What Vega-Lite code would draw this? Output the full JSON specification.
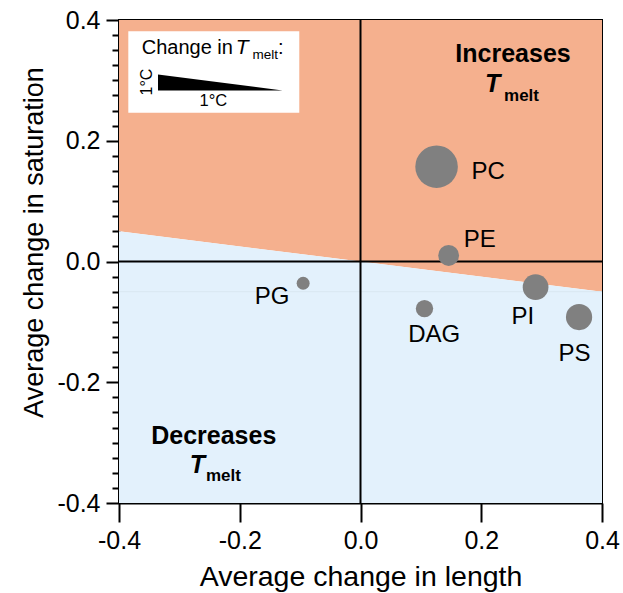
{
  "$schema": "https://vega.github.io/schema/vega-lite/v6.json",
  "width": 483,
  "height": 483,
  "autosize": {"type": "none"},
  "padding": {"left": 119, "top": 20, "right": 21, "bottom": 90},
  "background": "white",
  "config": {
    "font": "Liberation Sans",
    "view": {"stroke": "black", "strokeWidth": 2},
    "axis": {"grid": false, "domainColor": "black", "domainWidth": 2, "tickColor": "black", "tickWidth": 2, "labelColor": "black", "titleColor": "black", "labelFontSize": 25, "titleFontSize": 27, "titleFontWeight": "normal", "labelOverlap": false, "labelFlush": false}
  },
  "datasets": {
    "upper": [{"x": -0.4, "y": 0.05}, {"x": 0.4, "y": -0.05}],
    "points": [
      {"lipid": "PC", "length": 0.126, "saturation": 0.157, "w": 1.0, "lx": 0.184, "ly": 0.137},
      {"lipid": "PE", "length": 0.146, "saturation": 0.01, "w": 0.24, "lx": 0.171, "ly": 0.024},
      {"lipid": "PI", "length": 0.29, "saturation": -0.0425, "w": 0.365, "lx": 0.25, "ly": -0.104},
      {"lipid": "PS", "length": 0.362, "saturation": -0.092, "w": 0.38, "lx": 0.328, "ly": -0.165},
      {"lipid": "DAG", "length": 0.106, "saturation": -0.078, "w": 0.167, "lx": 0.079, "ly": -0.134},
      {"lipid": "PG", "length": -0.095, "saturation": -0.036, "w": 0.093, "lx": -0.175, "ly": -0.07}
    ],
    "bigT": [
      {"t": "T", "x": 0.2314, "y": 0.2804},
      {"t": "T", "x": -0.2576, "y": -0.350}
    ],
    "bigMelt": [
      {"t": "melt", "x": 0.2377, "y": 0.2655},
      {"t": "melt", "x": -0.256, "y": -0.364}
    ],
    "headers": [
      {"t": "Increases", "x": 0.2526, "y": 0.33},
      {"t": "Decreases", "x": -0.243, "y": -0.303}
    ],
    "minor": [
      {"v": -0.375}, {"v": -0.35}, {"v": -0.325}, {"v": -0.3}, {"v": -0.275}, {"v": -0.25}, {"v": -0.225},
      {"v": -0.175}, {"v": -0.15}, {"v": -0.125}, {"v": -0.1}, {"v": -0.075}, {"v": -0.05}, {"v": -0.025},
      {"v": 0.025}, {"v": 0.05}, {"v": 0.075}, {"v": 0.1}, {"v": 0.125}, {"v": 0.15}, {"v": 0.175},
      {"v": 0.225}, {"v": 0.25}, {"v": 0.275}, {"v": 0.3}, {"v": 0.325}, {"v": 0.35}, {"v": 0.375}
    ]
  },
  "resolve": {"axis": {"y": "independent"}},
  "layer": [
    {
      "layer": [
        {
          "data": {"name": "upper"},
          "mark": {"type": "area", "orient": "vertical", "color": "#F5B08E", "clip": true},
          "encoding": {
            "x": {"field": "x", "type": "quantitative", "scale": {"domain": [-0.4, 0.4], "nice": false, "zero": false},
              "axis": {"values": [-0.4, -0.2, 0, 0.2, 0.4], "tickSize": 19, "labelPadding": 6, "labelExpr": "replace(format(datum.value, '.1f'), '−', '-')", "title": "Average change in length", "titleFontSize": 28.5, "titlePadding": 9}},
            "y": {"field": "y", "type": "quantitative", "scale": {"domain": [-0.4, 0.4], "nice": false, "zero": false},
              "axis": {"values": [-0.4, -0.2, 0, 0.2, 0.4], "tickSize": 13,
                "labelExpr": "replace(format(datum.value, '.1f'), '−', '-')",
                "labelPadding": 6, "title": "Average change in saturation", "titlePadding": 8, "titleY": 222}},
            "y2": {"datum": 0.4}
          }
        },
        {
          "data": {"name": "upper"},
          "mark": {"type": "area", "orient": "vertical", "color": "#E3F1FC", "clip": true},
          "encoding": {
            "x": {"field": "x", "type": "quantitative"},
            "y": {"field": "y", "type": "quantitative"},
            "y2": {"datum": -0.4}
          }
        },
        {
          "data": {"values": [{"y": -0.05}]},
          "mark": {"type": "rule", "color": "#D9E7F1", "strokeWidth": 1},
          "encoding": {"y": {"field": "y", "type": "quantitative"}}
        },
        {
          "data": {"values": [{"x": 0}]},
          "mark": {"type": "rule", "color": "black", "strokeWidth": 2},
          "encoding": {"x": {"field": "x", "type": "quantitative"}}
        },
        {
          "data": {"values": [{"y": 0}]},
          "mark": {"type": "rule", "color": "black", "strokeWidth": 2},
          "encoding": {"y": {"field": "y", "type": "quantitative"}}
        },
        {
          "data": {"values": [{"x": -0.3846, "x2": -0.1014, "y": 0.3815, "y2": 0.2463}]},
          "mark": {"type": "rect", "color": "white"},
          "encoding": {
            "x": {"field": "x", "type": "quantitative"},
            "x2": {"field": "x2"},
            "y": {"field": "y", "type": "quantitative"},
            "y2": {"field": "y2"}
          }
        },
        {
          "data": {"values": [{"x": -0.3354, "top": 0.3097, "bottom": 0.2832}, {"x": -0.129, "top": 0.2832, "bottom": 0.2832}]},
          "mark": {"type": "area", "orient": "vertical", "color": "black"},
          "encoding": {
            "x": {"field": "x", "type": "quantitative"},
            "y": {"field": "top", "type": "quantitative"},
            "y2": {"field": "bottom"}
          }
        },
        {
          "data": {"values": [{"t": "Change in", "x": -0.3624, "y": 0.3429}, {"t": ":", "x": -0.1365, "y": 0.3429}]},
          "mark": {"type": "text", "align": "left", "baseline": "alphabetic", "fontSize": 20, "color": "black"},
          "encoding": {"x": {"field": "x", "type": "quantitative"}, "y": {"field": "y", "type": "quantitative"}, "text": {"field": "t"}}
        },
        {
          "data": {"values": [{"t": "T", "x": -0.2065, "y": 0.3429}]},
          "mark": {"type": "text", "align": "left", "baseline": "alphabetic", "fontSize": 21, "fontStyle": "italic", "color": "black"},
          "encoding": {"x": {"field": "x", "type": "quantitative"}, "y": {"field": "y", "type": "quantitative"}, "text": {"field": "t"}}
        },
        {
          "data": {"values": [{"t": "melt", "x": -0.179, "y": 0.3346}]},
          "mark": {"type": "text", "align": "left", "baseline": "alphabetic", "fontSize": 13.5, "color": "black"},
          "encoding": {"x": {"field": "x", "type": "quantitative"}, "y": {"field": "y", "type": "quantitative"}, "text": {"field": "t"}}
        },
        {
          "data": {"values": [{"t": "1°C", "x": -0.354, "y": 0.2973}]},
          "mark": {"type": "text", "align": "center", "baseline": "middle", "angle": 270, "fontSize": 16, "color": "black"},
          "encoding": {"x": {"field": "x", "type": "quantitative"}, "y": {"field": "y", "type": "quantitative"}, "text": {"field": "t"}}
        },
        {
          "data": {"values": [{"t": "1°C", "x": -0.2438, "y": 0.2572}]},
          "mark": {"type": "text", "align": "center", "baseline": "alphabetic", "fontSize": 16.5, "color": "black"},
          "encoding": {"x": {"field": "x", "type": "quantitative"}, "y": {"field": "y", "type": "quantitative"}, "text": {"field": "t"}}
        },
        {
          "data": {"name": "points"},
          "mark": {"type": "circle", "color": "#808080", "opacity": 1},
          "encoding": {
            "x": {"field": "length", "type": "quantitative"},
            "y": {"field": "saturation", "type": "quantitative"},
            "size": {"field": "w", "type": "quantitative", "scale": {"domain": [0, 1], "range": [0, 1810]}, "legend": null}
          }
        },
        {
          "data": {"name": "points"},
          "mark": {"type": "text", "align": "left", "baseline": "alphabetic", "fontSize": 24, "color": "black"},
          "encoding": {
            "x": {"field": "lx", "type": "quantitative"},
            "y": {"field": "ly", "type": "quantitative"},
            "text": {"field": "lipid"}
          }
        },
        {
          "data": {"name": "headers"},
          "mark": {"type": "text", "align": "center", "baseline": "alphabetic", "fontSize": 25, "fontWeight": "bold", "color": "black"},
          "encoding": {"x": {"field": "x", "type": "quantitative"}, "y": {"field": "y", "type": "quantitative"}, "text": {"field": "t"}}
        },
        {
          "data": {"name": "bigT"},
          "mark": {"type": "text", "align": "right", "baseline": "alphabetic", "fontSize": 25, "fontWeight": "bold", "fontStyle": "italic", "color": "black"},
          "encoding": {"x": {"field": "x", "type": "quantitative"}, "y": {"field": "y", "type": "quantitative"}, "text": {"field": "t"}}
        },
        {
          "data": {"name": "bigMelt"},
          "mark": {"type": "text", "align": "left", "baseline": "alphabetic", "fontSize": 17, "fontWeight": "bold", "color": "black"},
          "encoding": {"x": {"field": "x", "type": "quantitative"}, "y": {"field": "y", "type": "quantitative"}, "text": {"field": "t"}}
        }
      ]
    },
    {
      "data": {"name": "minor"},
      "mark": {"type": "point", "opacity": 0, "size": 0},
      "encoding": {
        "x": {"datum": 0, "type": "quantitative"},
        "y": {"field": "v", "type": "quantitative",
          "axis": {"orient": "left", "values": [-0.375, -0.35, -0.325, -0.3, -0.275, -0.25, -0.225, -0.175, -0.15, -0.125, -0.1, -0.075, -0.05, -0.025, 0.025, 0.05, 0.075, 0.1, 0.125, 0.15, 0.175, 0.225, 0.25, 0.275, 0.3, 0.325, 0.35, 0.375],
            "tickSize": 7, "labels": false, "domain": false, "title": null}}
      }
    }
  ]
}
